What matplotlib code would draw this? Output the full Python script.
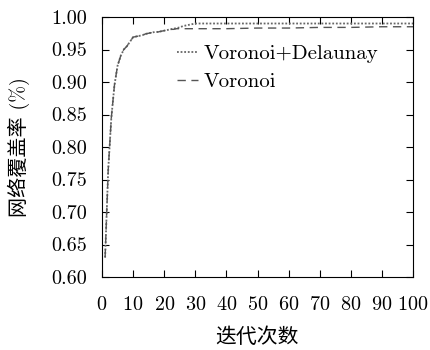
import numpy as np
import matplotlib
matplotlib.use("Agg")
import matplotlib.pyplot as plt

plt.rcParams['font.family'] = ['cmr10', 'Noto Sans CJK SC']
plt.rcParams['axes.formatter.use_mathtext'] = True

# iterations and coverage
iters = [1, 2, 3, 4, 5, 6, 7, 8, 9, 10, 11, 12, 13, 14, 15, 16, 17, 18, 19, 20,
         21, 22, 23, 24, 25, 26, 27, 28, 29, 30, 35, 40, 50, 60, 70, 80, 90, 100]
vd_cov = [0.630, 0.765, 0.845, 0.895, 0.925, 0.940, 0.950, 0.955, 0.962, 0.969,
          0.970, 0.971, 0.972, 0.974, 0.975, 0.976, 0.977, 0.977, 0.978, 0.979,
          0.980, 0.981, 0.982, 0.983, 0.984, 0.986, 0.987, 0.988, 0.989, 0.990,
          0.990, 0.990, 0.990, 0.990, 0.990, 0.990, 0.990, 0.990]
v_cov = [0.630, 0.765, 0.845, 0.895, 0.925, 0.940, 0.950, 0.955, 0.962, 0.969,
         0.970, 0.971, 0.972, 0.974, 0.975, 0.976, 0.977, 0.977, 0.978, 0.979,
         0.980, 0.981, 0.981, 0.982, 0.982, 0.982, 0.982, 0.982, 0.982, 0.982,
         0.982, 0.982, 0.983, 0.983, 0.984, 0.984, 0.985, 0.985]

fig = plt.figure(figsize=(4.3, 3.5), dpi=100)
ax = fig.add_axes([102 / 430, 1 - 277 / 350, 311 / 430, 260 / 350])

ax.plot(iters, vd_cov, color='#666666', linestyle=(0, (1, 1)), lw=1.3, label='Voronoi+Delaunay')
ax.plot(iters, v_cov, color='#555555', linestyle=(0, (6, 4)), lw=1.0, label='Voronoi')

ax.set_xlim(0, 100)
ax.set_ylim(0.6, 1.0)
ax.set_xticks(np.arange(0, 101, 10))
ax.set_yticks(np.arange(0.6, 1.001, 0.05))
ax.set_yticklabels(['%.2f' % v for v in np.arange(0.6, 1.001, 0.05)])
ax.tick_params(direction='in', top=True, right=True, length=5, labelsize=14.5, pad=11)
ax.tick_params(axis='x', pad=14)

ax.set_xlabel('迭代次数', fontsize=15, labelpad=9)
ax.set_ylabel('网络覆盖率 (%)', fontsize=14.5, labelpad=15)

ax.legend(loc='upper left', bbox_to_anchor=(0.18, 0.965), frameon=False, fontsize=15,
          handlelength=1.0, handletextpad=0.3, labelspacing=0.45)

fig.savefig('out.png', dpi=100)
